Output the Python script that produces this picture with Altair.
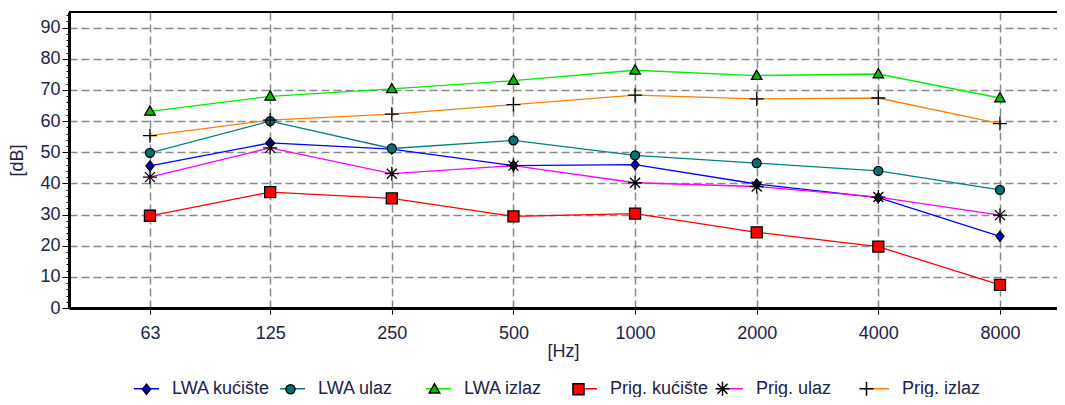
import altair as alt
import pandas as pd

freqs = [63, 125, 250, 500, 1000, 2000, 4000, 8000]
series = ["LWA kućište", "LWA ulaz", "LWA izlaz", "Prig. kućište", "Prig. ulaz", "Prig. izlaz"]
lwa_kuciste = [45.6, 53.0, 51.0, 45.7, 46.0, 39.8, 35.4, 23.0]
lwa_ulaz = [49.8, 60.0, 51.2, 53.8, 49.0, 46.5, 44.0, 37.9]
lwa_izlaz = [63.1, 67.9, 70.3, 73.0, 76.3, 74.6, 75.1, 67.4]
prig_kuciste = [29.6, 37.2, 35.2, 29.4, 30.3, 24.3, 19.7, 7.4]
prig_ulaz = [42.0, 51.4, 43.1, 45.7, 40.2, 39.0, 35.6, 29.8]
prig_izlaz = [55.3, 60.3, 62.2, 65.3, 68.3, 67.1, 67.4, 59.2]
y_ticks = list(range(0, 96, 2))
y_top = [95]

line_colors = ["#0000ff", "#008080", "#00ee00", "#ff0000", "#ff00ff", "#ff8000"]
marker_fills = ["#0000cc", "#007070", "#00bb00", "#ff0000", "#000000", "#000000"]
marker_strokes = ["#000000"] * 6
marker_paths = [
    "M0,-0.4L0.32,0L0,0.4L-0.32,0Z",
    "M-0.36,0A0.36,0.36,0,1,0,0.36,0A0.36,0.36,0,1,0,-0.36,0Z",
    "M0,-0.44L0.42,0.3L-0.42,0.3Z",
    "M-0.44,-0.44H0.44V0.44H-0.44Z",
    "M-0.56,0H0.56M0,-0.56V0.56M-0.4,-0.4L0.4,0.4M-0.4,0.4L0.4,-0.4",
    "M-0.56,0H0.56M0,-0.56V0.56",
]

values = [lwa_kuciste, lwa_ulaz, lwa_izlaz, prig_kuciste, prig_ulaz, prig_izlaz]
rows = []
for name, vals in zip(series, values):
    for f, v in zip(freqs, vals):
        rows.append({"series": name, "freq": f, "db": v})
df = pd.DataFrame(rows)

FONT = "Liberation Sans"
TXT = "#222248"
FS = 18

x_scale = alt.Scale(type="log", domain=[39.72, 11073], nice=False)
y_scale = alt.Scale(domain=[0, 95], nice=False)

x_axis = alt.Axis(
    values=freqs, title="[Hz]", format="d", labelFontSize=FS, titleFontSize=FS,
    labelColor=TXT, titleColor=TXT, labelFont=FONT, titleFont=FONT,
    titleFontWeight="normal",
    domainColor="black", domainWidth=3, tickColor="black", tickSize=6,
    gridColor="#8a8a8a", gridDash=[8, 4], gridWidth=1.5, labelPadding=10,
    titlePadding=0, labelFlush=False,
)
y_axis = alt.Axis(
    values=y_ticks, title="[dB]", labelExpr="datum.value % 10 == 0 ? datum.label : ''",
    labelFontSize=FS, titleFontSize=FS, labelColor=TXT, titleColor=TXT,
    labelFont=FONT, titleFont=FONT, titleFontWeight="normal",
    domainColor="black", domainWidth=3, tickColor="black",
    tickSize={"condition": {"test": "datum.value % 10 == 0", "value": 7}, "value": 3},
    gridOpacity={"condition": {"test": "datum.value % 10 == 0", "value": 1}, "value": 0},
    gridColor="#8a8a8a", gridDash=[8, 4], gridWidth=1.5, labelPadding=2,
    titlePadding=13, labelFlush=False,
)

x_enc = alt.X("freq:Q", scale=x_scale, axis=x_axis)
y_enc = alt.Y("db:Q", scale=y_scale, axis=y_axis)

legend_common = dict(
    orient="none", legendX=64, legendY=363, direction="horizontal", columns=6,
    gridAlign="all", columnPadding=6, symbolSize=625, labelFontSize=FS,
    labelFont=FONT, labelColor=TXT, labelOffset=12, title=None, symbolStrokeWidth=1.5,
)

lines = alt.Chart(df).mark_line(strokeWidth=1.3).encode(
    x=x_enc, y=y_enc,
    color=alt.Color("series:N", sort=series, scale=alt.Scale(range=line_colors),
                    legend=alt.Legend(symbolType="stroke", **legend_common)),
    detail="series:N",
)

marker_legend = alt.Legend(labelOpacity=0, **legend_common)
points = alt.Chart(df).mark_point(filled=True, size=625, opacity=1, strokeWidth=1.3).encode(
    x=x_enc, y=y_enc,
    shape=alt.Shape("series:N", scale=alt.Scale(domain=series, range=marker_paths),
                    legend=marker_legend),
    fill=alt.Fill("series:N", scale=alt.Scale(domain=series, range=marker_fills),
                  legend=marker_legend),
    stroke=alt.Stroke("series:N", scale=alt.Scale(domain=series, range=marker_strokes),
                      legend=marker_legend),
)

top_border = alt.Chart(pd.DataFrame({"top": y_top})).mark_rule(color="black", strokeWidth=2).encode(
    y=alt.Y("top:Q", scale=y_scale, axis=y_axis),
)

chart = alt.layer(lines, points, top_border).properties(
    width=988, height=296,
    autosize=alt.AutoSizeParams(type="none"),
    padding={"left": 61, "top": 4, "right": 0, "bottom": 89},
).configure_view(stroke="transparent").configure(background="white")

chart.save("out.html", embed_options={"renderer": "svg", "actions": False})
